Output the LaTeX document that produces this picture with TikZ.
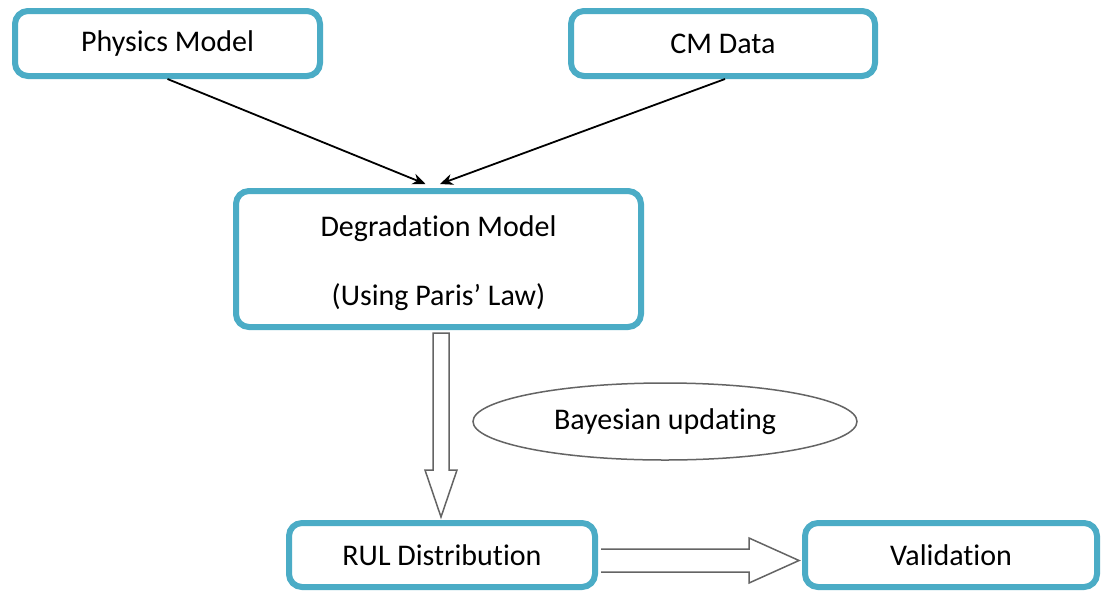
\documentclass[tikz,border=0pt]{standalone}
\usepackage{fontspec}
\setmainfont{Carlito}[Ligatures=NoCommon]
\usetikzlibrary{calc,arrows.meta,shapes.geometric}
\definecolor{boxblue}{RGB}{75,172,198}
\definecolor{hollowgray}{RGB}{100,100,100}
\begin{document}
\begin{tikzpicture}[x=1pt,y=-1pt,
  every node/.style={font=\fontsize{30}{36}\selectfont, text=black},
  stagebox/.style={draw=boxblue, line width=6pt, rounded corners=13pt, fill=white, inner sep=0pt},
  feed/.style={draw=black, line width=1.8pt, -{Stealth[length=13pt,width=11pt]}},
  hollow/.style={draw=hollowgray, line width=1.5pt, fill=white, line join=miter},
  oval/.style={draw=hollowgray, line width=1.5pt, ellipse, inner sep=0pt}]
  \useasboundingbox[fill=white] (0,0) rectangle (1107,592);

  % process stages
  \node[stagebox, minimum width=305pt, minimum height=65pt] (phys) at (167.5,43.5) {Physics Model};
  \node[stagebox, minimum width=304pt, minimum height=65pt] (cm)   at (723,43.5)   {CM Data};
  \node[stagebox, minimum width=405pt, minimum height=136pt] (deg) at (438.5,259)  {};
  \node (degtitle) at ($(deg.center)+(0,-30)$) {Degradation Model};
  \node (degsub)   at ($(deg.center)+(0,38)$)  {(Using Paris’ Law)};
  \node[stagebox, minimum width=306pt, minimum height=64pt] (rul) at (442,555) {RUL Distribution};
  \node[stagebox, minimum width=292pt, minimum height=64pt] (val) at (951,555) {Validation};

  % Bayesian updating loop label
  \node[oval, minimum width=384pt, minimum height=77pt] (bayes) at (665,421.5) {Bayesian updating};

  % inputs feeding the degradation model
  \draw[feed] (phys.south) -- ($(deg.north)+(-13,-4)$);
  \draw[feed] ($(cm.south)+(2,0)$) -- ($(deg.north)+(1.5,-4)$);

  % hollow block arrow: degradation model -> RUL distribution
  \coordinate (dtop) at ($(deg.south)+(2.5,3)$);
  \coordinate (dtip) at ($(rul.north)+(-1,-3)$);
  \draw[hollow] ($(dtop)+(-8,0)$) -- ($(dtip)+(-8,-47)$) -- ($(dtip)+(-16,-47)$)
    -- (dtip) -- ($(dtip)+(16,-47)$) -- ($(dtip)+(8,-47)$) -- ($(dtop)+(8,0)$) -- cycle;

  % hollow block arrow: RUL distribution -> validation
  \coordinate (rstart) at ($(rul.east)+(3,5.5)$);
  \coordinate (rtip) at ($(val.west)+(-3,5.5)$);
  \draw[hollow] ($(rstart)+(0,-11.5)$) -- ($(rtip)+(-50,-11.5)$) -- ($(rtip)+(-50,-22.5)$)
    -- (rtip) -- ($(rtip)+(-50,22.5)$) -- ($(rtip)+(-50,11.5)$) -- ($(rstart)+(0,11.5)$);
\end{tikzpicture}
\end{document}
